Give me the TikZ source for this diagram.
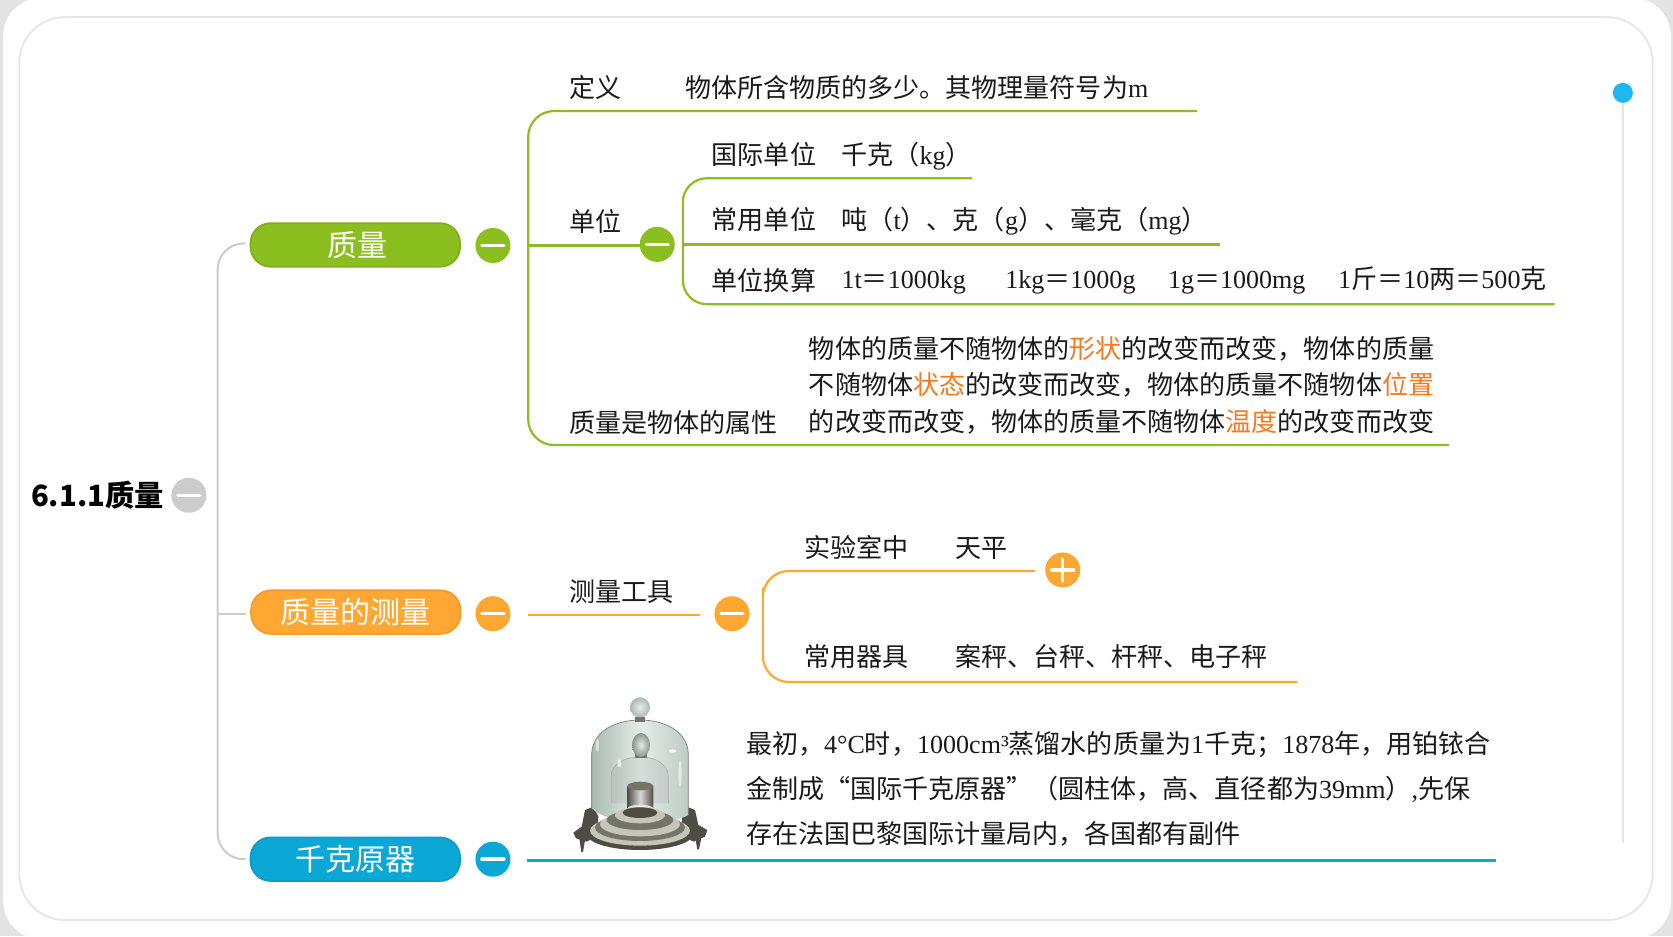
\documentclass[tikz,border=0pt]{standalone}
\usepackage{fontspec}
\setmainfont{Noto Sans CJK SC}
\newfontfamily\latf{Liberation Serif}
\newcommand{\la}[1]{{\latf #1}}
\definecolor{bggray}{HTML}{E3E3E3}
\definecolor{framegray}{HTML}{E6E6E6}
\definecolor{linkgray}{HTML}{CCCCCC}
\definecolor{grn}{HTML}{8BBF1F}
\definecolor{grnd}{HTML}{7FAF1B}
\definecolor{org}{HTML}{FFA733}
\definecolor{orgd}{HTML}{F79A2C}
\definecolor{blu}{HTML}{0BA8D6}
\definecolor{blud}{HTML}{0C9CC8}
\definecolor{hl}{HTML}{F47A20}
\definecolor{dot}{HTML}{1DB8F2}
\definecolor{ink}{HTML}{1A1A1A}
\definecolor{glassL}{HTML}{A9BAB2}
\definecolor{glassM}{HTML}{E6ECE9}
\definecolor{glassR}{HTML}{BECBC5}
\definecolor{metalD}{HTML}{4E4C44}
\definecolor{metalM}{HTML}{76746A}
\definecolor{metalL}{HTML}{C6C5BA}
\tikzset{
  txt/.style={anchor=base west,inner sep=0pt,yshift=-9.5pt,text=ink,font=\fontsize{26.05}{26}\selectfont},
  pill/.style={rectangle,rounded corners=20pt,minimum width=209.5pt,minimum height=43.5pt,inner sep=0pt,line width=1.8pt,text=white,font=\fontsize{30}{30}\selectfont},
  togglebase/.style={circle,minimum size=35pt,inner sep=0pt,draw=none},
  minusmark/.style={togglebase,path picture={\draw[white,line width=3.4pt,line cap=round] (path picture bounding box.center)+(-11pt,0pt) -- +(11pt,0pt);}},
  plusmark/.style={togglebase,path picture={\draw[white,line width=3.4pt,line cap=round] (path picture bounding box.center)+(-11pt,0pt) -- +(11pt,0pt) (path picture bounding box.center)+(0pt,-11pt) -- +(0pt,11pt);}},
  glink/.style={draw=grn,line width=2.2pt,rounded corners=26pt},
  olink/.style={draw=org,line width=2.2pt,rounded corners=26pt},
  blink/.style={draw=blu,line width=2.6pt},
  graylink/.style={draw=linkgray,line width=2pt,rounded corners=26pt},
}
\begin{document}
\begin{tikzpicture}[x=1.06696pt,y=-1.0673pt]
\useasboundingbox (0,0) rectangle (1568,877);
\fill[bggray] (0,0) rectangle (1568,877);
\fill[white,rounded corners=38pt] (3,-2) rectangle (1566,880);
\draw[framegray,line width=1.8pt,rounded corners=46pt] (18,16) rectangle (1549,862);

% timeline
\node[circle,fill=dot,minimum size=20pt,inner sep=0pt] (tdot) at (1521,87) {};
\coordinate (tend) at (1521,790);
\draw[framegray,line width=2pt] (tdot) -- (tend);

% root
\node[anchor=base west,inner sep=0pt,yshift=-11pt,text=black,font=\fontsize{29.3}{30}\selectfont\bfseries] (root) at (29,464) {6.1.1质量};
\node[minusmark,fill=linkgray] (trootm) at (177,464) {};

% main pills
\node[pill,fill=grn,draw=grnd] (zl) at (333,229.5) {\hspace{5pt}质量};
\node[pill,fill=org,draw=orgd] (cl) at (333.5,573.5) {质量的测量\hspace{8pt}};
\node[pill,fill=blu,draw=blud] (qk) at (333,805) {千克原器};
\coordinate (trunk) at (204,575);
\draw[graylink] ([xshift=-4pt,yshift=1.5pt]zl.west) -| (trunk) |- ([xshift=-4pt]qk.west);
\draw[graylink] (trunk) -- ([xshift=-4pt]cl.west |- trunk);

\node[minusmark,fill=grn] (tzl) at (462,230) {};
\node[minusmark,fill=org] (tcl) at (462,575) {};
\node[minusmark,fill=blu] (tqk) at (462,805) {};

% mass branch
\coordinate (g1) at (495,230);
\coordinate (g2) at (1122,104);
\coordinate (g3) at (1358,417);
\node[minusmark,fill=grn] (tdw) at (616,229) {};
\draw[glink] (g2) -| (g1) |- (g3);
\draw[glink] (g1) -- (tdw.west |- g1);
\coordinate (g4) at (640,229);
\coordinate (g5) at (911,167);
\coordinate (g6) at (1457,285);
\coordinate (g7) at (1143,229);
\draw[glink,rounded corners=24pt] (g5) -| (g4) |- (g6);
\draw[glink] (g4) -- (g7);

\node[txt] (n1) at (533.5,82) {定义};
\node[txt] (n2) at (642,82) {物体所含物质的多少。其物理量符号为\la{m}};
\node[txt] (n3) at (533.5,208) {单位};
\node[txt] (n4) at (667,145.5) {国际单位};
\node[txt] (n5) at (788.5,145.5) {千克（\la{kg}）};
\node[txt] (n6) at (667,206) {常用单位};
\node[txt] (n7) at (788.5,206) {吨（\la{t}）、克（\la{g}）、毫克（\la{mg}）};
\node[txt] (n8) at (667,263) {单位换算};
\node[txt] (n9) at (788.5,261.5) {\la{1t}＝\la{1000kg}};
\node[txt] (n10) at (942,261.5) {\la{1kg}＝\la{1000g}};
\node[txt] (n11) at (1094.5,261.5) {\la{1g}＝\la{1000mg}};
\node[txt] (n12) at (1254,261.5) {\la{1}斤＝\la{10}两＝\la{500}克};
\node[txt] (n13) at (533.5,396) {质量是物体的属性};
\node[txt] (n14) at (758,327) {物体的质量不随物体的\textcolor{hl}{形状}的改变而改变，物体的质量};
\node[txt] (n15) at (758,361) {不随物体\textcolor{hl}{状态}的改变而改变，物体的质量不随物体\textcolor{hl}{位置}};
\node[txt] (n16) at (758,395) {的改变而改变，物体的质量不随物体\textcolor{hl}{温度}的改变而改变};

% measuring branch
\coordinate (o1) at (495,576);
\node[minusmark,fill=org] (tgj) at (686,575) {};
\draw[olink] (o1) -- ([xshift=-14pt]tgj.west |- o1);
\node[plusmark,fill=org] (tsy) at (996,534) {};
\coordinate (o2) at (970,535);
\coordinate (o3) at (715,575);
\coordinate (o4) at (1216,639);
\draw[olink] (o2) -| (o3) |- (o4);
\node[txt] (m1) at (533.5,554.5) {测量工具};
\node[txt] (m2) at (754,513) {实验室中};
\node[txt] (m3) at (895,513) {天平};
\node[txt] (m4) at (754,616) {常用器具};
\node[txt] (m5) at (895,616) {案秤、台秤、杆秤、电子秤};

% prototype branch
\coordinate (b1) at (494,806.5);
\coordinate (b2) at (1402,806.5);
\draw[blink] (b1) -- (b2);
\node[txt] (k1) at (699,697) {最初，\la{4°C}时，\la{1000cm³}蒸馏水的质量为\la{1}千克；\la{1878}年，用铂铱合};
\node[txt] (k2) at (699,739) {金制成“国际千克原器”（圆柱体，高、直径都为\la{39mm}）\la{,}先保};
\node[txt] (k3) at (699,781) {存在法国巴黎国际计量局内，各国都有副件};

% bell jar picture
\begin{scope}[shift={(540pt,-660pt)},x=0.3333pt,y=-0.3333pt]
  % legs and arms
  \fill[metalD] (118,535) -- (136,535) -- (129,576) -- (124,576) -- cycle;
  \fill[metalD] (466,535) -- (484,535) -- (477,568) -- (472,568) -- cycle;
  \fill[metalD] (100,518) -- (125,500) -- (135,450) -- (160,440) -- (175,470) -- (170,530) -- (140,545) -- (108,535) -- cycle;
  \fill[metalD] (502,510) -- (475,495) -- (465,450) -- (440,440) -- (425,470) -- (430,530) -- (460,545) -- (495,530) -- cycle;
  % outer bell
  \shade[left color=glassL,right color=glassR,middle color=glassM]
     (155,445) -- (155,285) .. controls (155,215) and (225,180) .. (300,180) .. controls (375,180) and (445,215) .. (445,285) -- (445,465) .. controls (400,495) and (200,495) .. (155,445) -- cycle;
  \draw[black!50,line width=0.7pt] (155,445) -- (155,285) .. controls (155,215) and (225,180) .. (300,180) .. controls (375,180) and (445,215) .. (445,285) -- (445,465);
  % inner bell
  \fill[black,fill opacity=.06] (213,430) -- (213,350) .. controls (213,310) and (260,290) .. (300,290) .. controls (340,290) and (385,310) .. (385,350) -- (385,430) -- cycle;
  \draw[black!35,line width=0.5pt] (213,430) -- (213,350) .. controls (213,310) and (260,290) .. (300,290) .. controls (340,290) and (385,310) .. (385,350) -- (385,430);
  \fill[metalM] (285,283) rectangle (320,293);
  \shade[inner color=glassM,outer color=glassL!80!black] (303,255) ellipse (27 and 36);
  % base rings
  \fill[metalD] (300,522) ellipse (160 and 48);
  \fill[metalL] (300,512) ellipse (150 and 45);
  \fill[metalM] (300,503) ellipse (135 and 40);
  \fill[metalL] (300,493) ellipse (120 and 36);
  \fill[metalM] (300,480) ellipse (100 and 30);
  \fill[metalL] (300,466) ellipse (75 and 24);
  \fill[metalD] (300,458) ellipse (52 and 16);
  % cylinder
  \shade[left color=metalD,right color=metalD,middle color=white!85!black] (262,378) -- (262,445) arc[start angle=180,end angle=360,x radius=39,y radius=11] -- (340,378) -- cycle;
  \fill[metalM] (301,378) ellipse (39 and 13);
  % highlights
  \fill[white,opacity=.85] (398,273) ellipse (11 and 5);
  \fill[white,opacity=.7] (238,310) ellipse (6 and 12);
  \fill[white,opacity=.55] (172,255) ellipse (5 and 20);
  \fill[white,opacity=.5] (420,340) ellipse (5 and 40);
  % outer knob
  \fill[metalM] (285,172) rectangle (316,187);
  \shade[inner color=glassM,outer color=glassL] (300,142) circle (30);
\end{scope}
\end{tikzpicture}
\end{document}
